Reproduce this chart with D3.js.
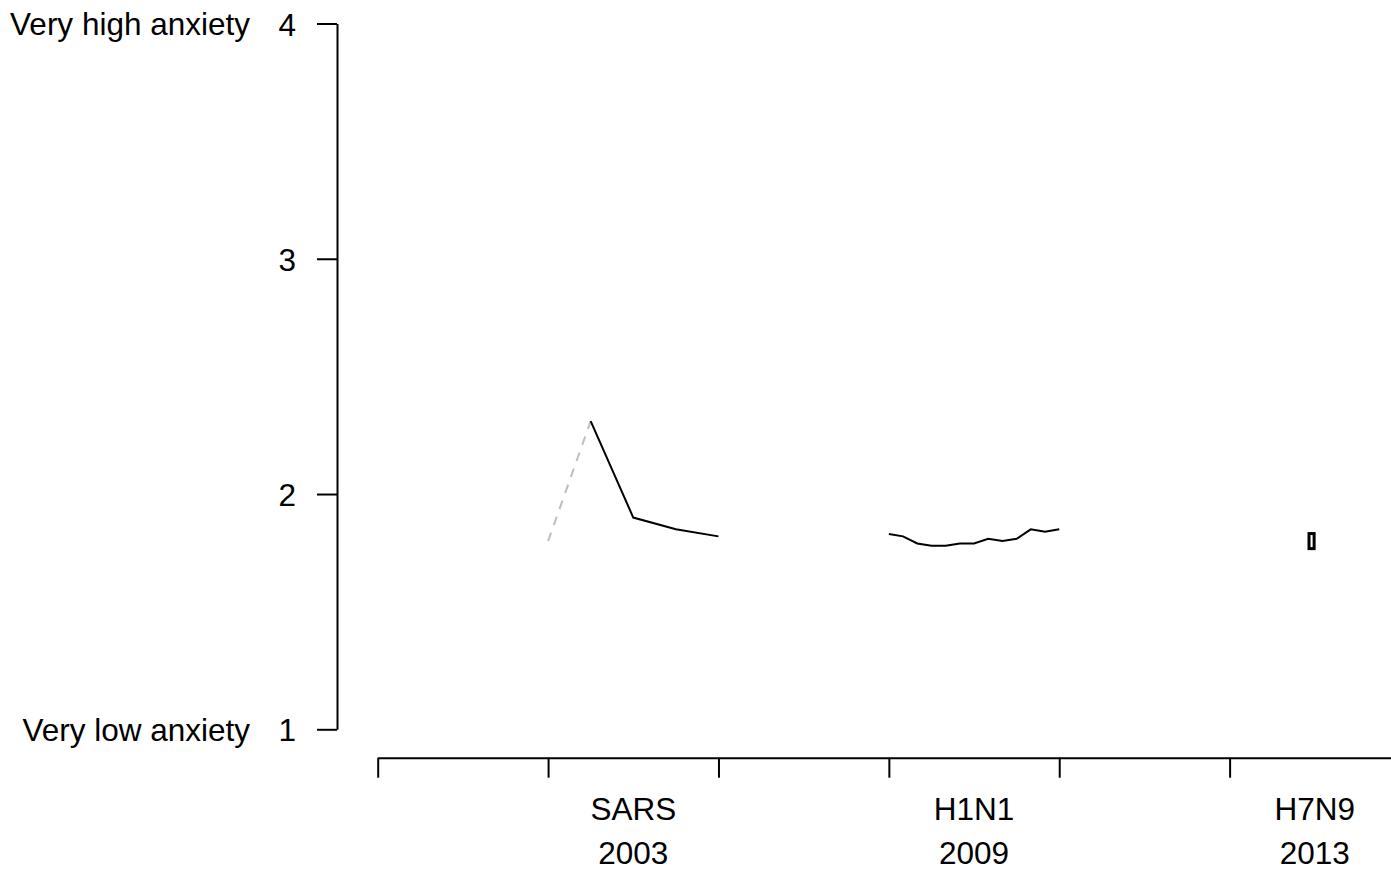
<!DOCTYPE html>
<html>
  <script src="https://cdn.jsdelivr.net/npm/d3@7/dist/d3.min.js" charset="utf-8"></script>
  <style>
    body { margin: 0; background: #fff; }
    text { font-family: "Liberation Sans", Arial, sans-serif; font-size: 31.5px; fill: #000; }
  </style>
  <body>
    <script>
// outbreaks along the bottom
var diseases = ['SARS', 'H1N1', 'H7N9']
  , years = ['2003', '2009', '2013']
  , labelAt = [1.5, 3.5, 5.5]
  , xTicks = [0, 1, 2, 3, 4, 5, 6]
  , yTicks = [1, 2, 3, 4]
  , yLabels = ['Very low anxiety', 'Very high anxiety']

// SARS: dashed grey lead-in then the solid series
var sarsLeadT = [1.0, 1.25]
  , sarsLeadVals = [1.80, 2.31]
  , sarsT = [1.25, 1.5, 1.75, 2.0]
  , sarsVals = [2.31, 1.90, 1.85, 1.82]

// H1N1: 13 readings over one slot
var h1n1T = [3, 3.083, 3.167, 3.25, 3.333, 3.417, 3.5, 3.583, 3.667, 3.75, 3.833, 3.917, 4.0]
  , h1n1Vals = [1.83, 1.82, 1.79, 1.78, 1.78, 1.79, 1.79, 1.81, 1.80, 1.81, 1.85, 1.84, 1.85]

// H7N9: one tiny box
var h7n9T = [5.466, 5.496]
  , h7n9Vals = [1.768, 1.832]

var width = 1391, height = 869
var svg = d3.select('body').append('svg')
  .attr('width', width).attr('height', height)

var x = d3.scaleLinear().domain([0, 6]).range([377.7, 1400])
  , y = d3.scaleLinear().domain([1, 4]).range([729.3, 23.5])

function styleAxis(g){
  g.selectAll('path, line').attr('stroke', '#000').attr('stroke-width', 2)
  g.selectAll('text').style('font-family', '"Liberation Sans", Arial, sans-serif')
    .style('font-size', '31.5px').attr('fill', '#000')
}

// y axis
var yAxis = svg.append('g').attr('transform', 'translate(337,0)')
  .call(d3.axisLeft(y).tickValues(yTicks).tickFormat(d3.format('d'))
    .tickSize(20).tickSizeOuter(0).tickPadding(21))
yAxis.call(styleAxis)
yAxis.selectAll('text').attr('dy', null).attr('y', 11.5)

svg.selectAll('text.ylab')
  .data(yLabels)
  .enter().append('text')
    .attr('class', 'ylab')
    .attr('x', 250)
    .attr('y', function(d, i){ return y(i ? 4 : 1) + 11.5 })
    .attr('text-anchor', 'end')
    .text(function(d){ return d })

// x axis
var xAxis = svg.append('g').attr('transform', 'translate(0,757.7)')
  .call(d3.axisBottom(x).tickValues(xTicks).tickFormat('')
    .tickSize(20).tickSizeOuter(0))
xAxis.call(styleAxis)

svg.selectAll('text.dis')
  .data(diseases)
  .enter().append('text')
    .attr('class', 'dis')
    .attr('x', function(d, i){ return x(labelAt[i]) })
    .attr('y', 820)
    .attr('text-anchor', 'middle')
    .text(function(d){ return d })

svg.selectAll('text.yr')
  .data(years)
  .enter().append('text')
    .attr('class', 'yr')
    .attr('x', function(d, i){ return x(labelAt[i]) })
    .attr('y', 864)
    .attr('text-anchor', 'middle')
    .text(function(d){ return d })

// series
var line = d3.line()
  .x(function(d){ return x(d[0]) })
  .y(function(d){ return y(d[1]) })

svg.append('path')
  .datum(d3.zip(sarsLeadT, sarsLeadVals))
  .attr('d', line)
  .attr('fill', 'none').attr('stroke', '#bebebe').attr('stroke-width', 2)
  .attr('stroke-dasharray', '9,8')

svg.append('path')
  .datum(d3.zip(sarsT, sarsVals))
  .attr('d', line)
  .attr('fill', 'none').attr('stroke', '#000').attr('stroke-width', 2)

svg.append('path')
  .datum(d3.zip(h1n1T, h1n1Vals))
  .attr('d', line)
  .attr('fill', 'none').attr('stroke', '#000').attr('stroke-width', 2)

svg.append('rect')
  .attr('x', x(h7n9T[0]))
  .attr('y', y(h7n9Vals[1]))
  .attr('width', x(h7n9T[1]) - x(h7n9T[0]))
  .attr('height', y(h7n9Vals[0]) - y(h7n9Vals[1]))
  .attr('fill', 'none').attr('stroke', '#000').attr('stroke-width', 3)
    </script>
  </body>
</html>
